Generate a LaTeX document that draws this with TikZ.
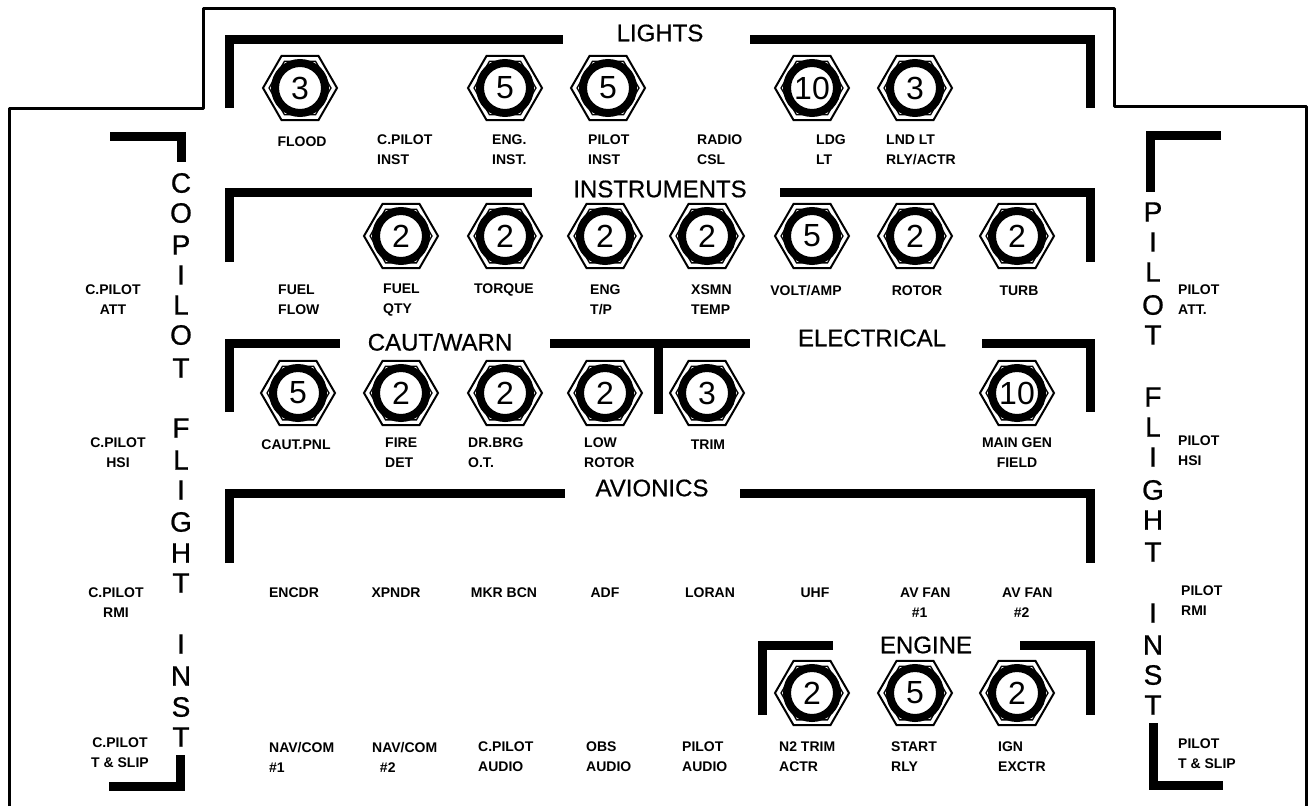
\documentclass[tikz,border=0pt]{standalone}
\usepackage{fontspec}
\setmainfont{Liberation Sans}
\usetikzlibrary{shapes.geometric}

\begin{document}
\begin{tikzpicture}[x=1pt, y=-1pt,
	bar/.style={line width=9pt},
	nut/.style={draw, line width=2pt, regular polygon, regular polygon sides=6,
		minimum size=74pt, inner sep=0pt},
	nutin/.style={draw, line width=1.3pt, regular polygon, regular polygon sides=6,
		minimum size=62pt, inner sep=0pt},
	ring/.style={draw, circle, fill=white, line width=8pt, minimum size=50pt, inner sep=0pt,
		font=\fontsize{32}{32}\selectfont},
	head/.style={font=\fontsize{24}{24}\selectfont\addfontfeature{FakeBold=0.6}, inner sep=0pt},
	side/.style={font=\fontsize{28}{28}\selectfont\addfontfeature{FakeBold=0.8}, inner sep=0pt},
	lbl/.style={font=\fontsize{14}{20}\selectfont\bfseries, align=left, anchor=west, inner sep=0pt},
	ctr/.style={font=\fontsize{14}{20}\selectfont\bfseries, align=center, inner sep=0pt}
]
	\useasboundingbox (0,0) rectangle (1309,806);

	% Panel outline
	\draw[line width=3pt, line join=round] (9,806) -- (9,108) -- (203,108) -- (203,8)
		-- (1114,8) -- (1114,106) -- (1306,106) -- (1306,806);

	% Section brackets
	\draw[bar] (229,108) -- (229,39) -- (563,39);
	\draw[bar] (750,39) -- (1090,39) -- (1090,108);
	\draw[bar] (229,262) -- (229,192) -- (532,192);
	\draw[bar] (780,192) -- (1090,192) -- (1090,262);
	\draw[bar] (229,412) -- (229,343) -- (340,343);
	\draw[bar] (550,343) -- (750,343);
	\draw[bar] (658,343) -- (658,414);
	\draw[bar] (982,343) -- (1090,343) -- (1090,412);
	\draw[bar] (229,563) -- (229,493) -- (565,493);
	\draw[bar] (740,493) -- (1090,493) -- (1090,563);
	\draw[bar] (762,715) -- (762,645) -- (833,645);
	\draw[bar] (1020,645) -- (1090,645) -- (1090,715);

	% Side brackets
	\draw[bar] (110,136) -- (181,136) -- (181,162);
	\draw[bar] (180,755) -- (180,786) -- (109,786);
	\draw[bar] (1221,135) -- (1150,135) -- (1150,192);
	\draw[bar] (1153,723) -- (1153,785) -- (1223,785);

	% Section titles
	\node[head] (lights) at (660,33) {LIGHTS};
	\node[head] (instruments) at (660,189) {INSTRUMENTS};
	\node[head] (cautwarn) at (440,342) {CAUT/WARN};
	\node[head] (electrical) at (872,338) {ELECTRICAL};
	\node[head] (avionics) at (652,488) {AVIONICS};
	\node[head] (engine) at (926,645) {ENGINE};

	% Side titles
	\foreach \ch/\py [count=\i] in {C/183,O/213,P/245,I/275,L/305,O/335,T/368,
		F/428,L/460,I/490,G/522,H/553,T/583,I/644,N/676,S/707,T/737}
		\node[side] (cp\i) at (181,\py) {\ch};
	\foreach \ch/\py [count=\i] in {P/212,I/242,L/272,O/305,T/335,
		F/397,L/427,I/457,G/490,H/520,T/552,I/613,N/645,S/675,T/705}
		\node[side] (pp\i) at (1153,\py) {\ch};

	% Breakers
	\foreach \name/\px/\py/\amp in {flood/300/88/3, enginst/505/88/5, pilotinst/608/88/5,
		ldg/812/88/10, lnd/915/88/3,
		fuelqty/401/236/2, torque/505/236/2, engtp/605/236/2, xsmn/707/236/2,
		voltamp/812/236/5, rotor/915/236/2, turb/1017/236/2,
		cautpnl/298/393/5, firedet/401/393/2, drbrg/505/393/2, lowrotor/605/393/2,
		trim/707/393/3, maingen/1017/393/10,
		ntrim/812/693/2, start/915/693/5, ign/1017/693/2}
	{
		\node[nut] (\name hex) at (\px,\py) {};
		\node[nutin] (\name in) at (\px,\py) {};
		\node[ring] (\name) at (\px,\py) {\amp};
	}

	% Lights labels
	\node[ctr] (lflood) at (302,142) {FLOOD};
	\node[lbl] (lcpinst) at (377,150) {C.PILOT\\INST};
	\node[lbl] (lenginst) at (492,150) {ENG.\\INST.};
	\node[lbl] (lpinst) at (588,150) {PILOT\\INST};
	\node[lbl] (lradio) at (697,150) {RADIO\\CSL};
	\node[lbl] (lldg) at (816,150) {LDG\\LT};
	\node[lbl] (llnd) at (886,150) {LND LT\\RLY/ACTR};

	% Instruments labels
	\node[lbl] (lflow) at (278,300) {FUEL\\FLOW};
	\node[lbl] (lqty) at (383,300) {FUEL\\QTY};
	\node[ctr] (ltorque) at (504,290) {TORQUE};
	\node[lbl] (lengtp) at (590,300) {ENG\\T/P};
	\node[lbl] (lxsmn) at (691,300) {XSMN\\TEMP};
	\node[ctr] (lvolt) at (806,291) {VOLT/AMP};
	\node[ctr] (lrotor) at (917,291) {ROTOR};
	\node[ctr] (lturb) at (1019,291) {TURB};

	% Caution and electrical labels
	\node[ctr] (lcaut) at (296,445) {CAUT.PNL};
	\node[lbl] (lfire) at (385,453) {FIRE\\DET};
	\node[lbl] (ldrbrg) at (468,453) {DR.BRG\\O.T.};
	\node[lbl] (llow) at (584,453) {LOW\\ROTOR};
	\node[ctr] (ltrim) at (708,445) {TRIM};
	\node[ctr] (lmain) at (1017,453) {MAIN GEN\\FIELD};

	% Avionics labels
	\node[ctr] (lencdr) at (294,593) {ENCDR};
	\node[ctr] (lxpndr) at (396,593) {XPNDR};
	\node[ctr] (lmkr) at (504,593) {MKR BCN};
	\node[ctr] (ladf) at (605,593) {ADF};
	\node[ctr] (lloran) at (710,593) {LORAN};
	\node[ctr] (luhf) at (815,593) {UHF};
	\node[lbl] (lfan) at (900,603) {AV FAN\\\ \ \ \#1};
	\node[lbl] (lfantwo) at (1002,603) {AV FAN\\\ \ \ \#2};

	% Bottom row labels
	\node[lbl] (lnav) at (269,757) {NAV/COM\\\#1};
	\node[lbl] (lnavtwo) at (372,757) {NAV/COM\\\ \ \#2};
	\node[lbl] (lcpaudio) at (478,757) {C.PILOT\\AUDIO};
	\node[lbl] (lobs) at (586,757) {OBS\\AUDIO};
	\node[lbl] (lpaudio) at (682,757) {PILOT\\AUDIO};
	\node[lbl] (lntrim) at (779,757) {N2 TRIM\\ACTR};
	\node[lbl] (lstart) at (891,757) {START\\RLY};
	\node[lbl] (lign) at (998,757) {IGN\\EXCTR};

	% Instrument labels at the sides
	\node[ctr] (lcatt) at (113,300) {C.PILOT\\ATT};
	\node[ctr] (lchsi) at (118,453) {C.PILOT\\HSI};
	\node[ctr] (lcrmi) at (116,603) {C.PILOT\\RMI};
	\node[ctr] (lcslip) at (120,753) {C.PILOT\\T \& SLIP};
	\node[lbl] (lpatt) at (1178,300) {PILOT\\ATT.};
	\node[lbl] (lphsi) at (1178,451) {PILOT\\HSI};
	\node[lbl] (lprmi) at (1181,601) {PILOT\\RMI};
	\node[lbl] (lpslip) at (1178,754) {PILOT\\T \& SLIP};
\end{tikzpicture}
\end{document}
